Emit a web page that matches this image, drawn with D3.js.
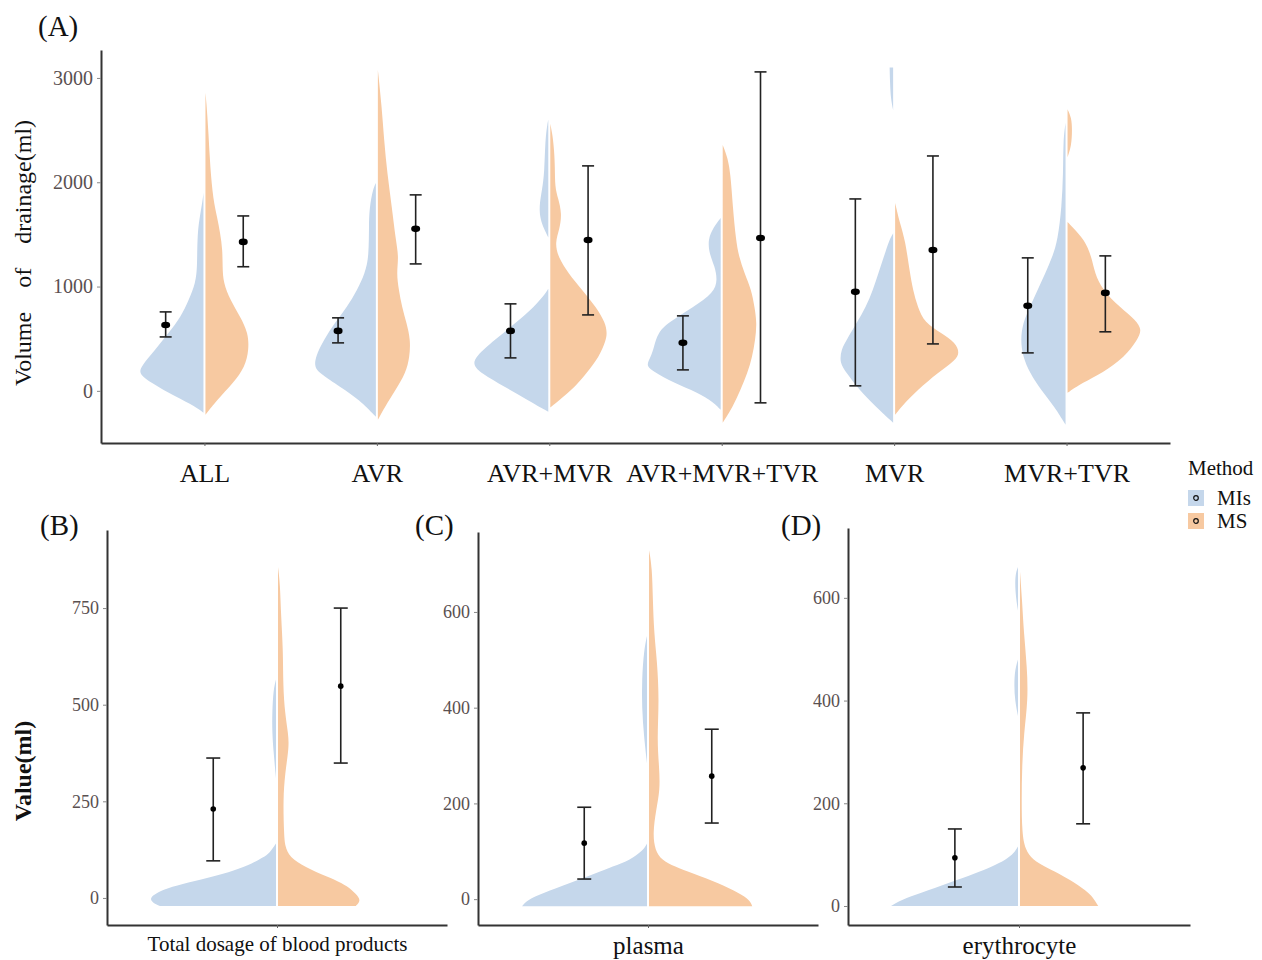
<!DOCTYPE html>
<html>
<head>
<meta charset="utf-8">
<script src="https://cdn.jsdelivr.net/npm/d3@7"></script>
<style>
	body { margin: 0; background: #fff; }
	svg text { font-family: "Liberation Serif", "Times New Roman", serif; }
</style>
</head>
<body>
<svg id="svg-main" width="1262" height="960"></svg>
<script>
// ---- data ----
var methods = ["MIs", "MS"];

// panel A: volume of drainage by surgery type
var groupsA = ["ALL", "AVR", "AVR+MVR", "AVR+MVR+TVR", "MVR", "MVR+TVR"];
var ticksA = [0, 1000, 2000, 3000];
var meanMIsA = [632, 575, 575, 460, 949, 815];
var lowMIsA = [517, 460, 316, 201, 48, 364];
var highMIsA = [757, 700, 834, 719, 1840, 1275];
var meanMSA = [1428, 1553, 1447, 1466, 1351, 939];
var lowMSA = [1190, 1217, 728, -115, 450, 566];
var highMSA = [1677, 1879, 2157, 3058, 2252, 1294];

// half-violin profiles: [value, relative density]
var densMIsA = [
	[[-210,0],[-150,.10],[-57,.36],[77,.67],[160,.83],[230,.81],[393,.62],[556,.45],[710,.29],[870,.19],[1035,.10],[1190,.08],[1510,.08],[1700,.04],[1830,.01],[1900,0]],
	[[-249,0],[-86,.21],[38,.46],[172,.73],[230,.79],[326,.78],[489,.67],[652,.53],[805,.37],[968,.24],[1130,.14],[1284,.09],[1610,.09],[1764,.08],[1927,.04],[1994,0]],
	[[-201,0],[-86,.27],[38,.56],[172,.87],[249,.97],[326,.94],[489,.69],[652,.42],[805,.18],[939,.03],[980,0],[1470,0],[1560,.06],[1640,.10],[1764,.12],[1927,.08],[2090,.05],[2406,.04],[2570,.01],[2600,0]],
	[[-182,0],[-86,.13],[10,.38],[105,.68],[201,.90],[249,.96],[326,.90],[422,.86],[556,.81],[652,.68],[805,.35],[939,.09],[1064,.04],[1200,.08],[1300,.14],[1447,.17],[1574,.09],[1658,0]],
	[[-306,0],[-153,.22],[10,.44],[172,.60],[268,.69],[393,.67],[489,.60],[652,.47],[805,.35],[968,.26],[1130,.19],[1284,.12],[1447,.05],[1510,0],[2690,0],[2800,.03],[2950,.04],[3100,.045]],
	[[-326,0],[-153,.14],[10,.32],[172,.46],[326,.55],[489,.58],[652,.55],[805,.46],[968,.36],[1130,.26],[1284,.17],[1447,.10],[1764,.05],[2090,.03],[2406,.03],[2570,0]]
];
var densMSA = [
	[[-230,0],[-86,.15],[77,.36],[230,.51],[393,.56],[556,.55],[710,.45],[870,.32],[1035,.23],[1190,.22],[1350,.22],[1510,.19],[1670,.15],[1830,.10],[2150,.06],[2470,.04],[2790,.01],[2856,0]],
	[[-278,0],[-153,.09],[10,.23],[172,.36],[326,.41],[489,.42],[652,.37],[805,.31],[968,.27],[1130,.24],[1284,.27],[1447,.23],[1764,.18],[2090,.12],[2406,.08],[2722,.05],[3077,0]],
	[[-160,0],[-86,.12],[38,.32],[172,.47],[326,.63],[489,.72],[556,.73],[652,.71],[805,.59],[968,.41],[1130,.23],[1284,.10],[1420,.06],[1550,.12],[1700,.15],[1850,.10],[1950,.06],[2150,.06],[2300,.05],[2450,.03],[2560,0]],
	[[-306,0],[-153,.13],[10,.23],[172,.32],[326,.38],[489,.42],[652,.44],[805,.41],[968,.37],[1130,.28],[1284,.21],[1447,.17],[1764,.13],[2090,.10],[2243,.06],[2358,0]],
	[[-230,0],[-153,.08],[10,.29],[172,.55],[297,.78],[364,.83],[460,.78],[556,.59],[652,.38],[805,.29],[968,.23],[1130,.19],[1447,.13],[1610,.06],[1802,0]],
	[[-19,0],[77,.19],[172,.45],[326,.74],[489,.90],[585,.96],[680,.88],[805,.67],[968,.45],[1130,.35],[1284,.31],[1447,.22],[1572,.06],[1620,0],[2240,0],[2350,.05],[2500,.06],[2620,.05],[2700,0]]
];

// panels B-D: blood products
var groupsSub = ["Total dosage of blood products", "plasma", "erythrocyte"];
var panelLetters = ["(A)", "(B)", "(C)", "(D)"];
var ticksSub = [[0, 250, 500, 750], [0, 200, 400, 600], [0, 200, 400, 600]];
var meanMIsSub = [230, 117, 94];
var lowMIsSub = [96, 42, 37];
var highMIsSub = [362, 192, 150];
var meanMSSub = [548, 257, 269];
var lowMSSub = [349, 159, 160];
var highMSSub = [750, 355, 376];
var densMIsSub = [
	[[-21,.91],[-12,.97],[0,.99],[12,.94],[25,.86],[40,.69],[55,.50],[70,.33],[90,.18],[105,.10],[116,.05],[141,0],[310,0],[380,.02],[430,.03],[480,.03],[540,.02],[565,0]],
	[[-15,.98],[-2,.94],[12,.82],[33,.61],[54,.40],[68,.27],[82,.13],[102,.03],[116,0],[284,0],[340,.024],[400,.04],[460,.04],[520,.024],[550,0]],
	[[0,.99],[12,.91],[25,.76],[45,.54],[64,.33],[77,.20],[90,.094],[103,.03],[116,0],[370,0],[400,.024],[430,.03],[460,.024],[480,0],[575,0],[600,.016],[630,.024],[650,.016],[660,0]]
];
var densMSSub = [
	[[-21,.61],[-10,.64],[0,.64],[21,.58],[39,.50],[54,.39],[80,.21],[106,.09],[133,.055],[167,.047],[253,.04],[323,.055],[390,.087],[425,.08],[478,.055],[546,.04],[641,.04],[727,.024],[815,.016],[856,0]],
	[[-15,.81],[-2,.79],[12,.71],[33,.55],[54,.34],[68,.20],[82,.10],[102,.047],[137,.03],[186,.055],[228,.087],[276,.08],[332,.063],[416,.08],[499,.063],[555,.04],[625,.03],[694,.024],[729,0]],
	[[0,.61],[12,.58],[25,.54],[45,.43],[64,.30],[77,.19],[90,.10],[110,.04],[142,.016],[206,.012],[271,.016],[336,.03],[401,.063],[466,.055],[531,.03],[596,.016],[651,0]]
];

// ---- drawing ----
var svg = d3.select("#svg-main");
var colors = { MIs: "#c5d7eb", MS: "#f7c9a1" };

// cut a profile into pieces separated by zero-density points
function pieces(profile) {
	var out = [], cur = [];
	profile.forEach(function(p) {
		cur.push(p);
		if (p[1] === 0) {
			if (cur.length > 1) out.push(cur);
			cur = [p];
		}
	});
	if (cur.length > 1) out.push(cur);
	return out.filter(function(r) {
		return d3.max(r, function(d) { return d[1]; }) > 0;
	});
}

function drawPanel(cfg) {
	var g = svg.append("g");
	var x = d3.scalePoint().domain(cfg.cats).range([cfg.left, cfg.right]).padding(0.6);
	var y = d3.scaleLinear().domain(cfg.yDomain).range([cfg.bottom, cfg.top]);
	var step = x.step();
	var w = d3.scaleLinear().domain([0, 1]).range([0, 0.45 * step]);
	var dodge = 0.225 * step;

	cfg.cats.forEach(function(c, i) {
		var cx = x(c);
		// left half = MIs, right half = MS
		[[cfg.densMIs[i], -1, "MIs"], [cfg.densMS[i], 1, "MS"]].forEach(function(h) {
			var side = h[1];
			var area = d3.area()
				.curve(d3.curveBasis)
				.y(function(d) { return y(d[0]); })
				.x0(cx + side)
				.x1(function(d) { return cx + side + side * w(d[1]); });
			pieces(h[0]).forEach(function(piece) {
				g.append("path")
					.attr("d", area(piece))
					.attr("fill", colors[h[2]]);
			});
		});

		var bars = [
			{ x: cx - dodge, m: cfg.mMIs[i], lo: cfg.lMIs[i], hi: cfg.hMIs[i] },
			{ x: cx + dodge, m: cfg.mMS[i], lo: cfg.lMS[i], hi: cfg.hMS[i] }
		];
		bars.forEach(function(b) {
			var eb = g.append("g").attr("stroke", "#222").attr("stroke-width", 1.6);
			eb.append("line").attr("x1", b.x).attr("x2", b.x).attr("y1", y(b.lo)).attr("y2", y(b.hi));
			eb.append("line").attr("x1", b.x - cfg.cap).attr("x2", b.x + cfg.cap).attr("y1", y(b.lo)).attr("y2", y(b.lo));
			eb.append("line").attr("x1", b.x - cfg.cap).attr("x2", b.x + cfg.cap).attr("y1", y(b.hi)).attr("y2", y(b.hi));
			g.append("ellipse")
				.attr("cx", b.x).attr("cy", y(b.m))
				.attr("rx", cfg.prx).attr("ry", cfg.pry)
				.attr("fill", "#000");
		});
	});

	// axes
	var yAxis = g.append("g")
		.attr("transform", "translate(" + cfg.left + ",0)")
		.call(d3.axisLeft(y).tickValues(cfg.ticks).tickFormat(d3.format("d"))
			.tickSize(4).tickSizeOuter(0).tickPadding(4));
	yAxis.select(".domain").attr("stroke", "#333").attr("stroke-width", 2);
	yAxis.selectAll(".tick line").attr("stroke", "#888");
	yAxis.selectAll(".tick text")
		.attr("fill", "#5a5050")
		.style("font-size", cfg.tickFont + "px")
		.style("font-family", "'Liberation Serif', serif");

	var xAxis = g.append("g")
		.attr("transform", "translate(0," + cfg.bottom + ")")
		.call(d3.axisBottom(x).tickSize(3).tickSizeOuter(0));
	xAxis.select(".domain").attr("stroke", "#333").attr("stroke-width", 2);
	xAxis.selectAll(".tick line").attr("stroke", "#666");
	xAxis.selectAll(".tick text")
		.attr("fill", "#111")
		.attr("y", cfg.catY)
		.style("font-size", cfg.catFont + "px")
		.style("font-family", "'Liberation Serif', serif");

	svg.append("text")
		.attr("x", cfg.letterX).attr("y", cfg.letterY)
		.style("font-size", "29px")
		.attr("fill", "#111")
		.text(cfg.letter);
}

drawPanel({
	cats: groupsA, left: 101, right: 1170, top: 50, bottom: 443, yDomain: [-500, 3268],
	ticks: ticksA, densMIs: densMIsA, densMS: densMSA,
	mMIs: meanMIsA, lMIs: lowMIsA, hMIs: highMIsA, mMS: meanMSA, lMS: lowMSA, hMS: highMSA,
	cap: 6, prx: 4.5, pry: 3.3, tickFont: 20, catFont: 26, catY: 21,
	letter: panelLetters[0], letterX: 38, letterY: 36
});

var subBoxes = [
	{ left: 107, right: 447, top: 530, bottom: 925, yDomain: [-70, 952], catFont: 21, letterX: 40 },
	{ left: 478, right: 818, top: 532, bottom: 925, yDomain: [-54, 767], catFont: 25, letterX: 415 },
	{ left: 848, right: 1190, top: 528, bottom: 925, yDomain: [-37, 736], catFont: 25, letterX: 781 }
];
groupsSub.forEach(function(name, i) {
	var b = subBoxes[i];
	drawPanel({
		cats: [name], left: b.left, right: b.right, top: b.top, bottom: b.bottom, yDomain: b.yDomain,
		ticks: ticksSub[i], densMIs: [densMIsSub[i]], densMS: [densMSSub[i]],
		mMIs: [meanMIsSub[i]], lMIs: [lowMIsSub[i]], hMIs: [highMIsSub[i]],
		mMS: [meanMSSub[i]], lMS: [lowMSSub[i]], hMS: [highMSSub[i]],
		cap: 7, prx: 2.8, pry: 2.8, tickFont: 18, catFont: b.catFont, catY: 11,
		letter: panelLetters[i + 1], letterX: b.letterX, letterY: 535
	});
});

// axis titles
svg.append("text")
	.attr("transform", "translate(31,253) rotate(-90)")
	.attr("text-anchor", "middle")
	.style("font-size", "24px")
	.style("word-spacing", "18px")
	.attr("fill", "#111")
	.text("Volume of drainage(ml)");
svg.append("text")
	.attr("transform", "translate(31,771) rotate(-90)")
	.attr("text-anchor", "middle")
	.style("font-size", "24px")
	.style("font-weight", "bold")
	.attr("fill", "#111")
	.text("Value(ml)");

// legend
var legend = svg.append("g").attr("transform", "translate(1188,0)");
legend.append("text").attr("x", 0).attr("y", 475)
	.style("font-size", "21px").attr("fill", "#111").text("Method");
methods.forEach(function(m, i) {
	var ly = 490 + i * 23;
	legend.append("rect").attr("x", 0).attr("y", ly).attr("width", 16).attr("height", 16)
		.attr("fill", colors[m]);
	legend.append("circle").attr("cx", 8).attr("cy", ly + 8).attr("r", 2.3)
		.attr("fill", "none").attr("stroke", "#111").attr("stroke-width", 1.2);
	legend.append("text").attr("x", 29).attr("y", ly + 15)
		.style("font-size", "21px").attr("fill", "#111").text(m);
});
</script>
</body>
</html>
